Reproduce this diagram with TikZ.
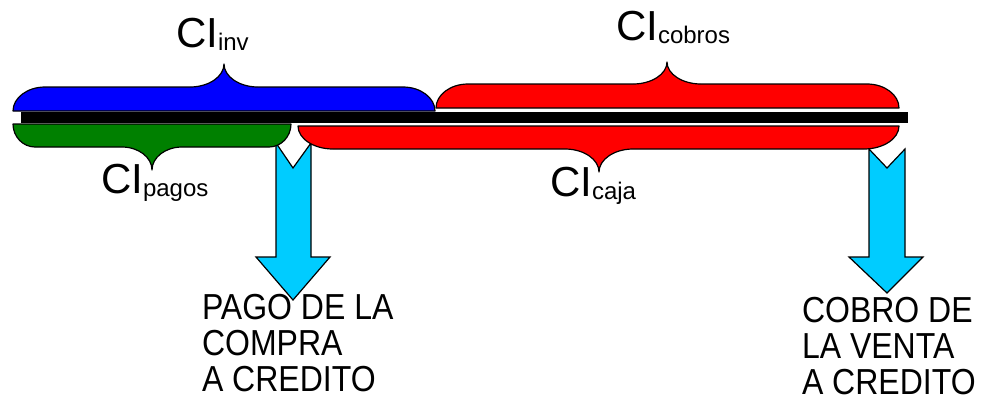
\documentclass[tikz,border=0pt]{standalone}
\usepackage{fontspec}
\setmainfont{Liberation Sans}
\usepackage{graphicx}

\definecolor{invblue}{RGB}{0,0,255}
\definecolor{cobrored}{RGB}{255,0,0}
\definecolor{pagogreen}{RGB}{0,128,0}
\definecolor{flowcyan}{RGB}{0,204,255}

% filled curly brace: colour, left, right, base y, body y, tip x, tip y, end radius, cusp radius
\newcommand\filledbrace[9]{%
  \filldraw[braceline,fill=#1]
    (#2,#4) .. controls (#2,{#4-0.55*(#4-#5)}) and ({#2+0.45*#8},#5) .. ({#2+#8},#5)
    -- ({#6-#9},#5) .. controls ({#6-0.45*#9},#5) and (#6,{#7+0.55*(#5-#7)}) .. (#6,#7)
    .. controls (#6,{#7+0.55*(#5-#7)}) and ({#6+0.45*#9},#5) .. ({#6+#9},#5)
    -- ({#3-#8},#5) .. controls ({#3-0.45*#8},#5) and (#3,{#4-0.55*(#4-#5)}) .. (#3,#4)
    -- cycle;}

\newcommand\cisub[1]{\raisebox{-3pt}{\fontsize{24}{24}\selectfont #1}}
\newcommand\tall[1]{\scalebox{1}[1.13]{#1}}

\begin{document}
\begin{tikzpicture}[x=1pt,y=-1pt,
  braceline/.style={draw=black,line width=1.2pt,line join=round},
  flowarrow/.style={draw=black,line width=1.2pt,fill=flowcyan,line join=miter},
  cilabel/.style={inner sep=0,outer sep=0,anchor=base west,font=\fontsize{42}{42}\selectfont},
  noteline/.style={inner sep=0,outer sep=0,anchor=base west,font=\fontsize{32}{32}\selectfont}]
\useasboundingbox[fill=white] (0,0) rectangle (982,400);

% downward flow arrows with notched tails
\filldraw[flowarrow] (276,143) -- (293,168) -- (311,143) -- (311,257) -- (330,257)
  -- (293,300) -- (256,257) -- (276,257) -- cycle;
\filldraw[flowarrow] (869,149) -- (887,168) -- (905,149) -- (905,257) -- (923,257)
  -- (887,293) -- (849,257) -- (869,257) -- cycle;

% braces above the time line
\filledbrace{invblue}{13}{435}{111}{87}{224}{64}{32}{34}
\filledbrace{cobrored}{436}{899}{108}{84}{667}{62}{32}{34}
% braces below the time line
\filledbrace{pagogreen}{13}{291}{124}{147}{152}{170}{22}{30}
\filledbrace{cobrored}{298}{899}{126}{149}{599}{172}{35}{34}

% time line
\fill[black] (21,112) rectangle (908,123);

% brace labels
\node[cilabel] (ciinv) at (176,47) {CI\cisub{inv}};
\node[cilabel] (cicobros) at (616,40) {CI\cisub{cobros}};
\node[cilabel] (cipagos) at (101,193) {CI\cisub{pagos}};
\node[cilabel] (cicaja) at (550,196) {CI\cisub{caja}};

% notes under the arrows
\node[noteline] (pago1) at (202,319) {\tall{PAGO DE LA}};
\node[noteline] (pago2) at (202,355) {\tall{COMPRA}};
\node[noteline] (pago3) at (202,391) {\tall{A CREDITO}};
\node[noteline] (cobro1) at (802,322) {\tall{COBRO DE}};
\node[noteline] (cobro2) at (802,358) {\tall{LA VENTA}};
\node[noteline] (cobro3) at (802,394) {\tall{A CREDITO}};
\end{tikzpicture}
\end{document}
